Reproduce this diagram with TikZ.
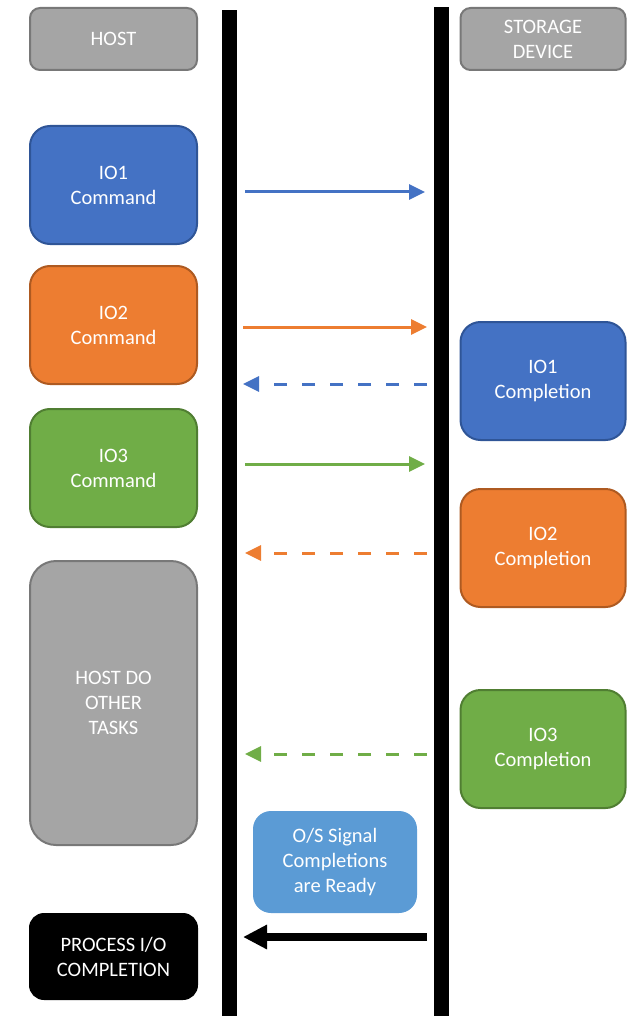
\documentclass[tikz,border=0pt]{standalone}
\usepackage{fontspec}
\setmainfont{Carlito}
\usetikzlibrary{arrows.meta}
\definecolor{cblue}{HTML}{4472C4}
\definecolor{cblueD}{HTML}{2F5597}
\definecolor{corange}{HTML}{ED7D31}
\definecolor{corangeD}{HTML}{AE5A21}
\definecolor{cgreen}{HTML}{70AD47}
\definecolor{cgreenD}{HTML}{507E32}
\definecolor{cgray}{HTML}{A5A5A5}
\definecolor{cgrayD}{HTML}{787878}
\definecolor{clblue}{HTML}{5B9BD5}
\tikzset{
  box/.style={rectangle, line width=2pt, text=white, align=center,
    font=\fontsize{20.5}{25}\selectfont, inner sep=0pt},
  graybox/.style={box, fill=cgray, draw=cgrayD},
  bluebox/.style={box, fill=cblue, draw=cblueD},
  orangebox/.style={box, fill=corange, draw=corangeD},
  greenbox/.style={box, fill=cgreen, draw=cgreenD},
  msg/.style={line width=3pt, -{Triangle[length=16pt,width=15pt]}},
  reply/.style={msg, dash pattern=on 13pt off 15pt},
}
\begin{document}
\begin{tikzpicture}[x=1pt,y=-1pt]
\useasboundingbox (0,0) rectangle (628,1016);
% lifelines
\fill[black] (222,10) rectangle (237,1016);
\fill[black] (434,7) rectangle (449,1016);
% host side
\node[graybox, minimum width=167pt, minimum height=62pt, rounded corners=10pt] (host) at (113.5,39) {HOST};
\node[graybox, minimum width=165pt, minimum height=62pt, rounded corners=10pt] (storage) at (543,39) {STORAGE\\DEVICE};
\node[bluebox, minimum width=167pt, minimum height=118pt, rounded corners=20pt] (io1c) at (113.5,185) {IO1\\Command};
\node[orangebox, minimum width=167pt, minimum height=118pt, rounded corners=20pt] (io2c) at (113.5,325) {IO2\\Command};
\node[greenbox, minimum width=167pt, minimum height=118pt, rounded corners=20pt] (io3c) at (113.5,468) {IO3\\Command};
\node[graybox, minimum width=167pt, minimum height=284pt, rounded corners=26pt] (other) at (113.5,703) {HOST DO\\OTHER\\TASKS};
\node[box, fill=black, draw=black, minimum width=167pt, minimum height=85pt, rounded corners=14pt] (proc) at (113.5,956.5) {PROCESS I/O\\COMPLETION};
% device side
\node[bluebox, minimum width=165pt, minimum height=118pt, rounded corners=20pt] (io1d) at (543,381) {IO1\\Completion};
\node[orangebox, minimum width=165pt, minimum height=118pt, rounded corners=20pt] (io2d) at (543,548) {IO2\\Completion};
\node[greenbox, minimum width=165pt, minimum height=118pt, rounded corners=20pt] (io3d) at (543,749) {IO3\\Completion};
\node[box, fill=clblue, draw=clblue, minimum width=162pt, minimum height=100pt, rounded corners=17pt] (os) at (335,862) {O/S Signal\\Completions\\are Ready};
% arrow end points on the lifelines
\coordinate (h1) at (245,192); \coordinate (d1) at (425,192);
\coordinate (h2) at (243,327); \coordinate (d2) at (427,327);
\coordinate (h3) at (243,384); \coordinate (d3) at (427,384);
\coordinate (h4) at (245,464); \coordinate (d4) at (425,464);
\coordinate (h5) at (245,553); \coordinate (d5) at (427,553);
\coordinate (h6) at (245,754); \coordinate (d6) at (427,754);
\coordinate (h7) at (243,937); \coordinate (d7) at (427,937);
% messages
\draw[msg, cblue] (h1) -- (d1);
\draw[msg, corange] (h2) -- (d2);
\draw[reply, cblue] (d3) -- (h3);
\draw[msg, cgreen] (h4) -- (d4);
\draw[reply, corange] (d5) -- (h5);
\draw[reply, cgreen] (d6) -- (h6);
\draw[black, line width=8pt, -{Triangle[length=24pt,width=23pt]}] (d7) -- (h7);
\end{tikzpicture}
\end{document}
